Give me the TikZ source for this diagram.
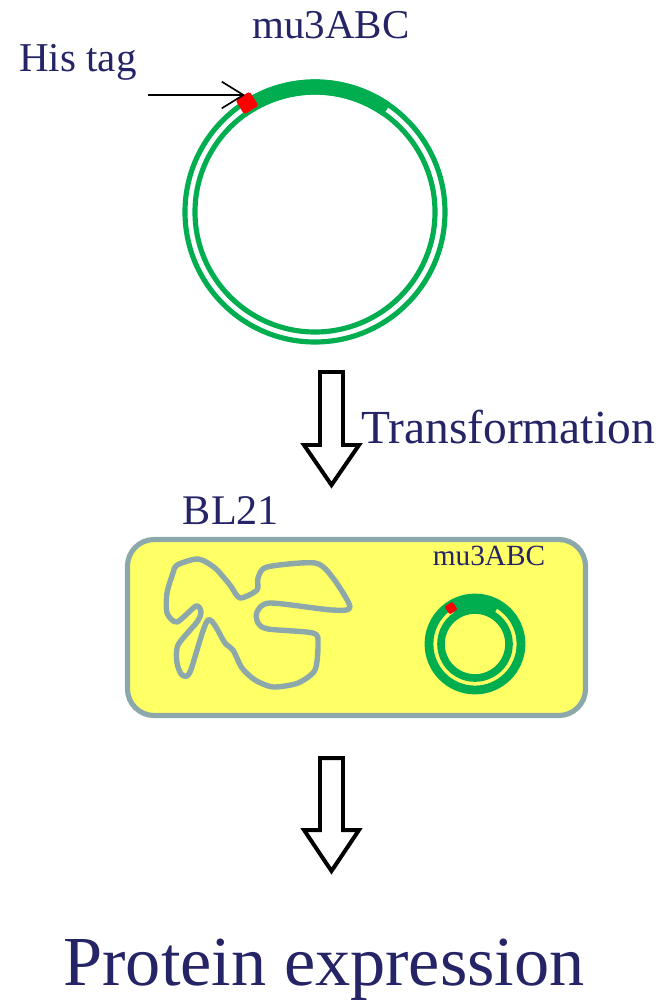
\documentclass[tikz,border=0pt]{standalone}
\usepackage{fontspec}
\setmainfont{Liberation Serif}
\usepackage{tikz}
\usetikzlibrary{calc, shapes, arrows.meta}
\usepackage{xcolor}

\definecolor{inktext}{RGB}{36,36,102}
\definecolor{dnagreen}{RGB}{0,174,80}
\definecolor{tagred}{RGB}{255,0,0}
\definecolor{cellfill}{RGB}{255,255,102}
\definecolor{cellrim}{RGB}{140,168,170}

\begin{document}
\begin{tikzpicture}[x=0.03cm, y=-0.03cm,
		label/.style={text=inktext, inner sep=0pt},
		ring/.style={draw=dnagreen},
		hollow/.style={draw=black, line width=3.4pt, miter limit=10, fill=white}]
		\useasboundingbox (0,0) rectangle (660,1005);

		% plasmid on top (y runs downwards, so the top arc has negative angles)
		\coordinate (ori) at (315,212);
		\draw[ring, line width=4.4pt] (ori) circle (130);
		\draw[ring, line width=4.4pt] (ori) circle (120);
		\draw[ring, line width=13pt] ($(ori)+(-55:125)$) arc (-55:-124:125);
		\node[fill=tagred, rounded corners=1.5pt, minimum size=0.5cm, rotate=32] (tag) at (247,103) {};
		\node[label, font=\fontsize{35}{40}\selectfont] (name) at (331,25) {mu3ABC};
		\node[label, font=\fontsize{35}{40}\selectfont] (his) at (78,62) {His tag};
		\coordinate (tagtail) at (148,95);
		\coordinate (tagtip) at (245,95);
		\draw[line width=1.4pt, -{Straight Barb[length=6.5mm, width=8mm]}] (tagtail) -- (tagtip);

		% first step
		\draw[hollow] (320,372) -- (343,372) -- (343,445) -- (359,445) -- (331.5,485)
		-- (304,445) -- (320,445) -- cycle;
		\node[label, font=\fontsize{40.5}{46}\selectfont] (step1) at (508,427) {Transformation};

		% host cell
		\node[label, font=\fontsize{36}{40}\selectfont] (host) at (231,511) {BL21};
		\node[draw=cellrim, fill=cellfill, line width=4.4pt, rounded corners=0.8cm,
		minimum width=13.74cm, minimum height=5.28cm, inner sep=0pt] (cell) at (356.5,627.5) {};
		\draw[cellrim, line width=4.6pt, line join=round] plot[smooth cycle, tension=0.45] coordinates {
			(177,565) (198,559) (215,568) (230,585) (240,598) (257,590) (258,578) (267,567)
			(315,563) (333,578) (350,607) (332,610) (270,603) (257,612) (258,623) (268,629)
			(313,633) (318,643) (315,670) (298,683) (273,687) (255,680) (242,668) (233,650)
			(225,643) (208,620) (190,672) (182,675) (177,663) (178,645) (197,622) (201,612)
			(196,606) (177,622) (167,613) (167,593) (173,573)};

		% plasmid inside the cell
		\coordinate (ori2) at (475,644);
		\draw[ring, line width=7.5pt] (ori2) circle (46);
		\draw[ring, line width=6.5pt] (ori2) circle (34);
		\draw[ring, line width=14pt] ($(ori2)+(-58:41)$) arc (-58:-124:41);
		\node[fill=tagred, rounded corners=1pt, minimum size=0.28cm, rotate=34] (tag2) at (451,608) {};
		\node[label, font=\fontsize{25}{30}\selectfont] (name2) at (489,556) {mu3ABC};

		% second step
		\draw[hollow] (320,758) -- (343,758) -- (343,830) -- (359,830) -- (331.5,871)
		-- (304,830) -- (320,830) -- cycle;
		\node[label, font=\fontsize{60}{66}\selectfont] (result) at (324,970) {Protein expression};
	\end{tikzpicture}
\end{document}
